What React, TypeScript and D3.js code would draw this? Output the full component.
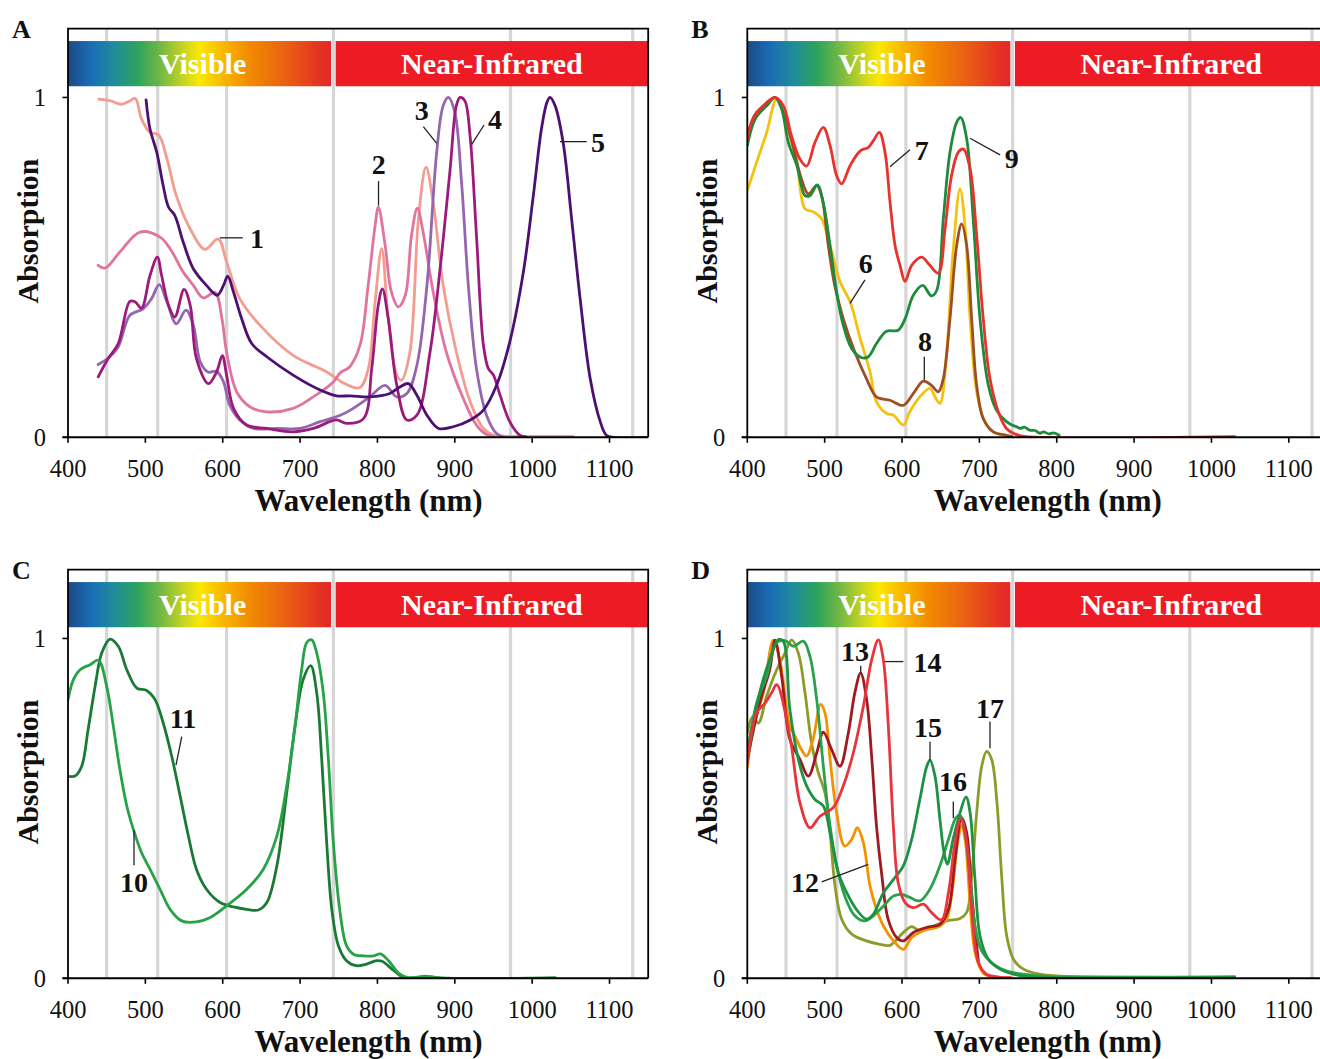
import React from "react";
import * as d3 from "d3";

type P = [number, number];

// ---------- Panel A ----------
const s1: P[] = [[440,0.995],[455,0.99],[469,0.98],[480,0.99],[487,0.997],[495,0.937],[506,0.897],[517,0.89],[528,0.819],[540,0.711],[558,0.613],[577,0.553],[594,0.584],[605,0.516],[622,0.408],[648,0.33],[691,0.241],[734,0.193],[756,0.16],[777,0.146],[788,0.2],[797,0.398],[805.5,0.555],[814,0.349],[825,0.183],[831,0.168],[842,0.251],[853,0.643],[862.8,0.795],[872,0.692],[885,0.447],[902,0.251],[920,0.104],[937,0.026],[950,0.006],[970,0.003],[1053,0.003]];
const s2: P[] = [[439,0.506],[448,0.498],[467,0.545],[493,0.604],[519,0.589],[532,0.555],[549,0.486],[562,0.447],[575,0.41],[590,0.427],[599,0.349],[605,0.251],[618,0.134],[635,0.09],[657,0.075],[691,0.085],[717,0.119],[743,0.163],[752,0.19],[764,0.207],[777.5,0.271],[788,0.447],[797,0.623],[801.2,0.677],[810,0.564],[818,0.428],[827,0.384],[836,0.418],[844,0.594],[851.6,0.674],[859,0.604],[872,0.428],[889,0.251],[911,0.114],[928,0.036],[941,0.008],[950,0.002]];
const s3: P[] = [[439,0.214],[454,0.237],[465,0.266],[480,0.359],[497,0.378],[508,0.408],[518,0.449],[528,0.398],[540,0.334],[552.6,0.374],[562,0.33],[571,0.222],[581,0.192],[592,0.194],[601,0.163],[609,0.095],[622,0.051],[640,0.026],[670,0.026],[700,0.026],[726,0.046],[752,0.065],[765,0.08],[790,0.119],[809.8,0.153],[825,0.119],[838,0.129],[851,0.212],[864,0.447],[876.6,0.839],[885,0.976],[891.7,1.0],[900,0.956],[909,0.741],[917.5,0.447],[928,0.202],[941,0.065],[954,0.011],[962,0.002]];
const s4: P[] = [[439,0.178],[452,0.232],[465,0.276],[480,0.4],[487,0.398],[495,0.38],[506,0.476],[515.5,0.53],[521,0.476],[530,0.388],[538,0.354],[550,0.435],[558,0.388],[566,0.232],[581.5,0.158],[592,0.192],[599.5,0.24],[605,0.183],[614,0.085],[631,0.036],[657,0.026],[691,0.016],[717,0.026],[747,0.051],[760,0.041],[782,0.055],[792.6,0.202],[801,0.388],[806.4,0.437],[814,0.349],[825,0.153],[838,0.051],[851,0.065],[868,0.251],[881,0.496],[894,0.79],[902,0.976],[906.8,1.0],[913,0.99],[919.7,0.888],[928,0.594],[937,0.271],[943.4,0.202],[950,0.183],[958.5,0.124],[971,0.046],[984,0.006],[992,0.001]];
const s5: P[] = [[500.9,0.993],[506,0.907],[514.7,0.839],[523,0.741],[530,0.677],[538,0.653],[549,0.574],[562,0.496],[579,0.447],[593,0.418],[601,0.447],[606.4,0.474],[614,0.427],[624.5,0.349],[637.5,0.276],[657,0.237],[691,0.183],[726,0.139],[747,0.122],[765,0.122],[790,0.119],[816,0.129],[829,0.148],[840,0.158],[851,0.124],[864,0.065],[879,0.026],[898,0.031],[920,0.051],[937,0.08],[954,0.153],[971,0.28],[988.6,0.486],[1001.5,0.711],[1012,0.907],[1019,0.985],[1023,1.0],[1029.6,0.976],[1040,0.868],[1051,0.643],[1062,0.408],[1075,0.173],[1088,0.046],[1096,0.006],[1105,0.0],[1150,0.0]];

// ---------- Panel B ----------
const s6: P[] = [[400,0.726],[412,0.809],[425,0.897],[438,0.995],[451,0.917],[464,0.809],[474.6,0.672],[485,0.664],[496,0.643],[507,0.564],[520,0.457],[533,0.398],[546,0.29],[558.6,0.193],[567,0.104],[580,0.07],[589,0.065],[601.7,0.036],[610,0.075],[623,0.119],[636,0.144],[642.6,0.119],[649,0.1],[657.7,0.251],[666,0.545],[675,0.731],[681.4,0.623],[688,0.349],[696.5,0.134],[707,0.046],[718,0.016],[731,0.006],[738,0.002]];
const s7: P[] = [[400,0.878],[408,0.941],[420.7,0.976],[435.8,1.0],[446.6,0.976],[457,0.888],[468,0.819],[476.7,0.798],[487.5,0.868],[498.3,0.912],[507,0.858],[515.5,0.77],[522,0.746],[533,0.8],[546,0.843],[556.5,0.853],[563,0.873],[570.7,0.897],[578,0.839],[584.5,0.692],[591,0.564],[597.4,0.506],[603.9,0.459],[612.5,0.506],[625.4,0.53],[636,0.506],[647,0.483],[655.6,0.613],[664,0.77],[672.8,0.839],[679.3,0.848],[688,0.79],[696.5,0.594],[705,0.349],[713.7,0.173],[724.5,0.075],[735,0.026],[748,0.008],[760,0.002],[1030,0.002]];
const s8: P[] = [[400,0.888],[412,0.956],[425,0.976],[435.8,1.0],[446.6,0.956],[459.5,0.853],[470,0.76],[479,0.716],[489.7,0.741],[496,0.711],[504.7,0.564],[513,0.447],[524,0.349],[539,0.251],[554,0.173],[567,0.119],[584.5,0.109],[601.7,0.094],[614.6,0.129],[627.6,0.165],[638,0.153],[647,0.134],[653.4,0.173],[662,0.349],[670.6,0.564],[677.1,0.628],[683.6,0.564],[690,0.349],[696.5,0.153],[705,0.055],[718,0.016],[735,0.006],[742,0.003]];
const s9: P[] = [[400,0.858],[410,0.936],[425,0.976],[435.8,1.0],[444.4,0.966],[453,0.868],[464,0.8],[474.6,0.711],[481,0.711],[490.5,0.743],[498,0.692],[507,0.564],[515.5,0.427],[524,0.33],[535,0.261],[548,0.234],[556.5,0.237],[567,0.276],[580,0.312],[595,0.315],[604,0.349],[614.6,0.418],[626.7,0.447],[638,0.416],[644.8,0.432],[653.4,0.643],[662,0.839],[670.6,0.927],[675.8,0.941],[683.6,0.878],[692,0.643],[700.8,0.349],[711.6,0.153],[722,0.08],[735,0.046],[742,0.036],[748,0.031],[753,0.026],[758,0.03],[765,0.021],[772,0.02],[778,0.012],[783,0.016],[790,0.01],[796,0.013],[803,0.006]];

// ---------- Panel C ----------
const s10: P[] = [[400,0.82],[407,0.879],[415.6,0.908],[428.5,0.923],[439.3,0.936],[450,0.859],[458.6,0.742],[467,0.615],[476,0.507],[484.5,0.438],[495,0.37],[506,0.321],[519,0.262],[532,0.203],[547,0.169],[566,0.166],[584,0.179],[605,0.213],[631,0.262],[652.5,0.321],[670,0.419],[682.7,0.566],[693.5,0.742],[702,0.908],[708.6,0.988],[715,0.996],[721.5,0.957],[730,0.84],[736.6,0.644],[743,0.399],[751.7,0.194],[760,0.096],[769,0.071],[782,0.066],[795,0.066],[804,0.072],[815,0.05],[828,0.014],[840,0.002],[862,0.006],[880,0.001],[1030,0.001]];
const s11: P[] = [[400,0.595],[409,0.595],[417.7,0.624],[426,0.732],[435,0.859],[443.6,0.957],[454.3,0.998],[465,0.977],[476,0.908],[489,0.854],[501.7,0.847],[512.5,0.82],[523,0.752],[534,0.654],[545,0.536],[555.6,0.419],[566,0.321],[579,0.262],[596.5,0.223],[614,0.21],[631,0.203],[646,0.201],[657,0.223],[670,0.331],[682.7,0.546],[693.5,0.742],[704,0.879],[713.7,0.92],[721.5,0.84],[728,0.644],[734.4,0.399],[741,0.203],[749.5,0.096],[760,0.052],[773,0.037],[786,0.042],[799,0.052],[806,0.05],[820,0.025],[835,0.002],[865,0.005],[880,0.001],[1030,0.001]];

// ---------- Panel D ----------
const s12: P[] = [[400,0.619],[408,0.742],[420.7,0.84],[433.6,0.995],[442,0.938],[455,0.742],[461.7,0.712],[470,0.673],[476.7,0.654],[485,0.703],[494.8,0.806],[500.4,0.781],[507,0.644],[515.5,0.487],[526,0.389],[535,0.409],[542.2,0.443],[550,0.399],[558.6,0.272],[567,0.203],[576,0.154],[589,0.11],[601.7,0.085],[612.5,0.12],[627.6,0.14],[649,0.154],[657.7,0.174],[665,0.26],[672,0.4],[677,0.45],[682,0.4],[688,0.22],[695,0.07],[705,0.015],[720,0.003],[740,0.002]];
const s13: P[] = [[400,0.644],[416,0.81],[429,0.908],[435.8,0.995],[444.4,0.889],[455,0.703],[468,0.644],[479,0.595],[489.7,0.663],[498.3,0.724],[509,0.673],[519.8,0.624],[530.6,0.722],[539,0.84],[546.5,0.898],[554.3,0.82],[561,0.644],[567,0.448],[574,0.301],[582,0.174],[593,0.12],[601.7,0.11],[614.6,0.135],[632,0.15],[649,0.159],[660,0.203],[668.5,0.35],[677,0.473],[683.6,0.428],[690,0.252],[696.5,0.096],[698.7,0.052]];
const s14: P[] = [[400,0.634],[412,0.781],[423,0.81],[431.5,0.84],[438,0.864],[455,0.712],[468,0.517],[481,0.443],[494,0.477],[511,0.502],[524,0.566],[537,0.663],[550,0.8],[560.8,0.938],[569.4,0.996],[575.8,0.938],[582.3,0.742],[588.8,0.448],[595,0.282],[604,0.223],[614.6,0.208],[627.6,0.218],[638,0.194],[651,0.172],[660,0.252],[668.5,0.399],[675.8,0.47],[683.6,0.399],[690,0.203],[698.7,0.047],[709,0.012],[727,0.003],[740,0.002]];
const s15: P[] = [[400,0.644],[416,0.84],[429,0.938],[440,0.997],[446.6,0.991],[455,0.791],[466,0.644],[476.7,0.566],[487.5,0.526],[498.3,0.507],[507,0.428],[517.7,0.311],[528.5,0.252],[541,0.203],[554,0.174],[563,0.189],[576,0.252],[589,0.291],[601.7,0.331],[612.5,0.409],[623,0.526],[632,0.624],[636.2,0.642],[642.6,0.595],[649,0.468],[654.3,0.37],[658.6,0.336],[666,0.409],[675,0.487],[682.7,0.534],[688,0.487],[694,0.301],[700.8,0.125],[711.6,0.056],[726.6,0.027],[744,0.012],[770,0.004],[1030,0.003]];
const s16: P[] = [[400,0.663],[412,0.81],[425,0.889],[438,0.988],[448.7,0.994],[459.5,0.977],[472.4,0.992],[481,0.947],[489.7,0.82],[498.3,0.624],[507,0.448],[515.5,0.331],[526,0.242],[539,0.184],[552,0.169],[563,0.184],[576,0.213],[589,0.242],[599.5,0.247],[610,0.238],[623,0.228],[636,0.262],[649,0.331],[660,0.409],[669.8,0.473],[675,0.48],[681.4,0.428],[688,0.291],[694.3,0.154],[703,0.081],[718,0.042],[735,0.022],[757,0.012],[790,0.005],[1030,0.004]];
const s17: P[] = [[400,0.722],[407,0.769],[414.3,0.751],[425,0.83],[438,0.908],[448.7,0.957],[457.4,0.996],[466,0.957],[474.6,0.84],[483,0.693],[491.8,0.605],[500.4,0.546],[507,0.428],[513.4,0.272],[522,0.174],[535,0.13],[554,0.11],[571.5,0.1],[584.5,0.097],[601.7,0.135],[612.5,0.152],[623,0.14],[640.5,0.154],[657.7,0.169],[675,0.176],[683.6,0.194],[690,0.301],[696.5,0.487],[703,0.624],[709.4,0.668],[715.9,0.644],[722.4,0.526],[728.8,0.301],[735.3,0.125],[744,0.056],[757,0.027],[778,0.012],[800,0.007],[1030,0.004]];

// ---------- shared ----------
const xTicks = [400, 500, 600, 700, 800, 900, 1000, 1100];
const yTicks = [0, 1];
const gridNm = [450, 516, 605, 743, 972, 1130];
const panelLetters = ["A", "B", "C", "D"];

const spectrumStops: [number, string][] = [
  [0, "#1c4a86"], [0.088, "#1a6db6"], [0.176, "#1f8c9a"], [0.265, "#2ea35e"],
  [0.353, "#74b844"], [0.441, "#c9d521"], [0.5, "#fbe800"], [0.588, "#f9b800"],
  [0.691, "#f18a00"], [0.824, "#ea6212"], [0.94, "#e5381f"], [1, "#e3262a"],
];

type Series = { data: P[]; color: string };
type Label = { text: string; at: P; line: [P, P] };

const panels: { series: Series[]; labels: Label[] }[] = [
  {
    series: [
      { data: s1, color: "#f39c90" },
      { data: s2, color: "#e0749f" },
      { data: s3, color: "#9466ae" },
      { data: s4, color: "#9c1a7e" },
      { data: s5, color: "#4c1170" },
    ],
    labels: [
      { text: "1", at: [644.3, 0.586], line: [[596.5, 0.587], [625.9, 0.587]] },
      { text: "2", at: [801.8, 0.804], line: [[801.4, 0.754], [801.4, 0.682]] },
      { text: "3", at: [857.2, 0.963], line: [[859.3, 0.914], [876.6, 0.865]] },
      { text: "4", at: [952, 0.937], line: [[937.8, 0.919], [921.9, 0.862]] },
      { text: "5", at: [1085.1, 0.869], line: [[1036, 0.87], [1070.5, 0.87]] },
    ],
  },
  {
    series: [
      { data: s6, color: "#f4c20d" },
      { data: s8, color: "#9c4f25" },
      { data: s9, color: "#1d8a3c" },
      { data: s7, color: "#e8332c" },
    ],
    labels: [
      { text: "6", at: [553, 0.513], line: [[552.1, 0.463], [532.8, 0.394]] },
      { text: "7", at: [625.4, 0.846], line: [[610.3, 0.846], [584.4, 0.796]] },
      { text: "8", at: [629.7, 0.284], line: [[628.8, 0.237], [628.8, 0.169]] },
      { text: "9", at: [741.8, 0.822], line: [[726.7, 0.831], [687.9, 0.88]] },
    ],
  },
  {
    series: [
      { data: s11, color: "#1a7a35" },
      { data: s10, color: "#27a347" },
    ],
    labels: [
      { text: "10", at: [485.3, 0.283], line: [[485.3, 0.436], [485.3, 0.333]] },
      { text: "11", at: [548.7, 0.766], line: [[547, 0.711], [539.6, 0.627]] },
    ],
  },
  {
    series: [
      { data: s17, color: "#8e9a2a" },
      { data: s12, color: "#f39200" },
      { data: s13, color: "#9e1b22" },
      { data: s16, color: "#2aa24c" },
      { data: s15, color: "#1e9243" },
      { data: s14, color: "#e8343a" },
    ],
    labels: [
      { text: "12", at: [474.6, 0.283], line: [[496.2, 0.284], [556.4, 0.335]] },
      { text: "13", at: [539.2, 0.963], line: [[546.6, 0.92], [546.6, 0.9]] },
      { text: "14", at: [632.9, 0.931], line: [[578, 0.932], [601.7, 0.932]] },
      { text: "15", at: [633.6, 0.74], line: [[636.2, 0.696], [636.2, 0.642]] },
      { text: "16", at: [665.9, 0.581], line: [[666.3, 0.52], [666.3, 0.471]] },
      { text: "17", at: [713.7, 0.796], line: [[713.7, 0.756], [713.7, 0.677]] },
    ],
  },
];

const SERIF = "'Liberation Serif', 'Times New Roman', serif";

function Panel({ idx }: { idx: number }) {
  const col = idx % 2;
  const row = Math.floor(idx / 2);
  const x0 = col === 0 ? 68 : 747.3;
  const dy = row * 541;
  const x = d3.scaleLinear().domain([400, 1150]).range([x0, x0 + 580.2]);
  const y = d3.scaleLinear().domain([0, 1.2]).range([437.3 + dy, 29.5 + dy]);
  const line = d3
    .line<P>()
    .x((d) => x(d[0]))
    .y((d) => y(d[1]))
    .curve(d3.curveCatmullRom.alpha(0.5));
  const gid = `spec${idx}`;
  const top = 28.7 + dy;
  const bottom = y(0);
  const { series, labels } = panels[idx];
  return (
    <g>
      <defs>
        <linearGradient id={gid} x1={x(400)} x2={x(740)} y1={0} y2={0} gradientUnits="userSpaceOnUse">
          {spectrumStops.map(([o, c], i) => (
            <stop key={i} offset={o} stopColor={c} />
          ))}
        </linearGradient>
        <clipPath id={`clip${idx}`}>
          <rect x={x(400)} y={top} width={x(1150) - x(400)} height={bottom - top} />
        </clipPath>
      </defs>
      {gridNm.map((g) => (
        <line key={g} x1={x(g)} x2={x(g)} y1={top} y2={bottom} stroke="#d6d6d6" strokeWidth={3.2} />
      ))}
      <rect x={x(400)} y={y(1.166)} width={x(740) - x(400)} height={y(1.033) - y(1.166)} fill={`url(#${gid})`} />
      <rect x={x(746)} y={y(1.166)} width={x(1150) - x(746)} height={y(1.033) - y(1.166)} fill="#ed1c24" />
      <text x={x(574)} y={y(1.033) - 12} textAnchor="middle" fill="#fff" fontFamily={SERIF} fontWeight="bold" fontSize={30}>
        Visible
      </text>
      <text x={x(948)} y={y(1.033) - 12} textAnchor="middle" fill="#fff" fontFamily={SERIF} fontWeight="bold" fontSize={30}>
        Near-Infrared
      </text>
      <g clipPath={`url(#clip${idx})`}>
        {series.map((s, i) => (
          <path key={i} d={line(s.data) || ""} fill="none" stroke={s.color} strokeWidth={2.8} strokeLinejoin="round" strokeLinecap="round" />
        ))}
      </g>
      {/* frame */}
      <path d={`M${x(400)},${bottom} V${top} H${x(1150)} V${bottom}`} fill="none" stroke="#000" strokeWidth={1.8} />
      <line x1={x(400) - 5.5} x2={x(1150)} y1={bottom} y2={bottom} stroke="#000" strokeWidth={2} />
      {xTicks.map((t) => (
        <g key={t}>
          <line x1={x(t)} x2={x(t)} y1={bottom} y2={bottom + 5.5} stroke="#000" strokeWidth={1.6} />
          <text x={x(t)} y={bottom + 40} textAnchor="middle" fontFamily={SERIF} fontSize={24.5} fill="#111">
            {t}
          </text>
        </g>
      ))}
      {yTicks.map((t) => (
        <g key={t}>
          <line x1={x(400) - 5.5} x2={x(400)} y1={y(t)} y2={y(t)} stroke="#000" strokeWidth={1.6} />
          <text x={x(400) - 22} y={y(t) + 8.5} textAnchor="end" fontFamily={SERIF} fontSize={24.5} fill="#111">
            {t}
          </text>
        </g>
      ))}
      <text x={x0 + 300.5} y={bottom + 74} textAnchor="middle" fontFamily={SERIF} fontWeight="bold" fontSize={31} fill="#111">
        Wavelength (nm)
      </text>
      <text transform={`translate(${x0 - 30},${dy + 231}) rotate(-90)`} textAnchor="middle" fontFamily={SERIF} fontWeight="bold" fontSize={30} fill="#111">
        Absorption
      </text>
      <text x={x0 - 56} y={dy + 38} fontFamily={SERIF} fontWeight="bold" fontSize={26} fill="#111">
        {panelLetters[idx]}
      </text>
      {labels.map((l, i) => (
        <g key={i}>
          <line x1={x(l.line[0][0])} y1={y(l.line[0][1])} x2={x(l.line[1][0])} y2={y(l.line[1][1])} stroke="#222" strokeWidth={1.3} />
          <text x={x(l.at[0])} y={y(l.at[1]) + 10} textAnchor="middle" fontFamily={SERIF} fontWeight="bold" fontSize={28} fill="#111">
            {l.text}
          </text>
        </g>
      ))}
    </g>
  );
}

export default function App() {
  return (
    <svg width={1320} height={1059} style={{ position: "absolute", left: 0, top: 0, background: "#fff" }}>
      <rect width={1320} height={1059} fill="#fff" />
      {[0, 1, 2, 3].map((i) => (
        <Panel key={i} idx={i} />
      ))}
    </svg>
  );
}
